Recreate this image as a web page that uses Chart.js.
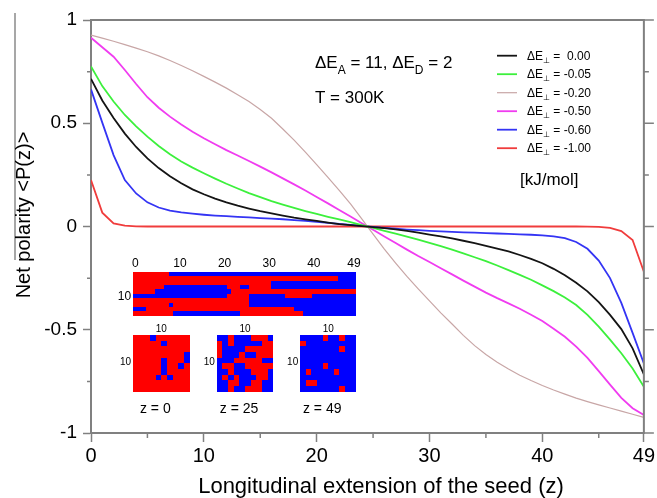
<!DOCTYPE html>
<html>
<head>
<meta charset="utf-8">
<script src="https://cdn.jsdelivr.net/npm/chart.js@4.4.0/dist/chart.umd.min.js"></script>
<style>
  html, body { margin: 0; padding: 0; background: #fff; }
  canvas { display: block; }
</style>
</head>
<body>
<canvas id="chart" width="657" height="498"></canvas>
<script>
// longitudinal position of the seed
const zValues = [0, 1, 2, 3, 4, 5, 6, 7, 8, 9, 10, 11, 12, 13, 14, 15, 16, 17, 18, 19, 20, 21, 22, 23, 24,
    25, 26, 27, 28, 29, 30, 31, 32, 33, 34, 35, 36, 37, 38, 39, 40, 41, 42, 43, 44, 45, 46, 47, 48, 49];

// dE_perp values (legend) and their curves
const dePerp = ['0.00', '-0.05', '-0.20', '-0.50', '-0.60', '-1.00'];
const p000 = [0.715, 0.61, 0.525, 0.45, 0.385, 0.33, 0.283, 0.243, 0.209, 0.18, 0.156, 0.135, 0.117, 0.101, 0.087, 0.074, 0.063, 0.053, 0.043, 0.035, 0.027, 0.019, 0.012, 0.007, 0.002,
    -0.003, -0.008, -0.014, -0.021, -0.03, -0.039, -0.048, -0.058, -0.069, -0.081, -0.094, -0.107, -0.121, -0.138, -0.157, -0.178, -0.205, -0.236, -0.272, -0.314, -0.366, -0.428, -0.497, -0.59, -0.716];
const p005 = [0.775, 0.68, 0.605, 0.54, 0.485, 0.435, 0.39, 0.35, 0.315, 0.285, 0.258, 0.232, 0.207, 0.184, 0.162, 0.142, 0.123, 0.106, 0.09, 0.075, 0.061, 0.047, 0.034, 0.021, 0.007,
    -0.007, -0.021, -0.035, -0.049, -0.064, -0.079, -0.095, -0.112, -0.13, -0.149, -0.168, -0.189, -0.211, -0.234, -0.258, -0.285, -0.313, -0.344, -0.38, -0.428, -0.485, -0.548, -0.614, -0.688, -0.776];
const p020 = [0.927, 0.912, 0.897, 0.881, 0.864, 0.846, 0.826, 0.804, 0.78, 0.754, 0.727, 0.699, 0.67, 0.638, 0.605, 0.567, 0.524, 0.472, 0.418, 0.36, 0.3, 0.238, 0.175, 0.11, 0.037,
    -0.037, -0.11, -0.177, -0.242, -0.302, -0.36, -0.418, -0.472, -0.527, -0.577, -0.62, -0.657, -0.69, -0.72, -0.746, -0.77, -0.792, -0.812, -0.831, -0.848, -0.864, -0.879, -0.894, -0.909, -0.924];
const p050 = [0.914, 0.868, 0.822, 0.758, 0.69, 0.626, 0.575, 0.532, 0.494, 0.459, 0.427, 0.398, 0.37, 0.344, 0.317, 0.29, 0.262, 0.233, 0.204, 0.174, 0.143, 0.112, 0.08, 0.048, 0.016,
    -0.016, -0.048, -0.08, -0.112, -0.143, -0.172, -0.202, -0.232, -0.262, -0.291, -0.32, -0.347, -0.372, -0.398, -0.427, -0.458, -0.495, -0.534, -0.582, -0.636, -0.7, -0.766, -0.83, -0.88, -0.913];
const p060 = [0.664, 0.503, 0.346, 0.225, 0.16, 0.117, 0.092, 0.077, 0.068, 0.062, 0.057, 0.053, 0.05, 0.047, 0.044, 0.041, 0.038, 0.035, 0.031, 0.027, 0.023, 0.018, 0.013, 0.008, 0.003,
    -0.002, -0.007, -0.011, -0.015, -0.018, -0.021, -0.024, -0.026, -0.028, -0.03, -0.032, -0.034, -0.036, -0.038, -0.04, -0.043, -0.048, -0.056, -0.075, -0.108, -0.165, -0.25, -0.37, -0.515, -0.663];
const p100 = [0.225, 0.067, 0.015, 0.004, 0.001, 0, 0, 0, 0, 0, 0, 0, 0, 0, 0, 0, 0, 0, 0, 0, 0, 0, 0, 0, 0,
    0, 0, 0, 0, 0, 0, 0, 0, 0, 0, 0, 0, 0, 0, 0, 0, 0, 0, 0, -0.001, -0.002, -0.007, -0.022, -0.065, -0.219];

// tick labels
const xTickValues = [0, 10, 20, 30, 40, 49];
const xMinorTicks = [5, 15, 25, 35, 45];
const yTickValues = [-1, -0.5, 0, 0.5, 1];
const yTickLabels = ['-1', '-0.5', '0', '0.5', '1'];
const yMinorTicks = [-0.75, -0.25, 0.25, 0.75];

// inset snapshots: R = red, B = blue
const stripTicks = ['0', '10', '20', '30', '40', '49'];
const stripTickCols = [0, 10, 20, 30, 40, 49];
const stripRuns = [
    [['R', 8], ['B', 42]],
    [['R', 46], ['B', 4]],
    [['R', 31], ['B', 19]],
    [['R', 7], ['B', 14], ['R', 3], ['B', 2], ['R', 5], ['B', 19]],
    [['R', 5], ['B', 17], ['R', 28]],
    [['B', 21], ['R', 5], ['B', 8], ['R', 6], ['B', 10]],
    [['R', 26], ['B', 24]],
    [['R', 8], ['B', 1], ['R', 17], ['B', 24]],
    [['B', 3], ['R', 33], ['B', 14]],
    [['R', 9], ['B', 15], ['R', 14], ['B', 12]]
];
const snapZ0 = ['RRRBRRRRRR', 'RRRRRBRRRR', 'RRRRRRRRRR', 'RRRRRRRRRB', 'RRRRRBRRRB',
    'RRRRRBRRBR', 'RRRRRBRRRR', 'RRRRBRBRRR', 'RRRRRRRRRR', 'RRRRRRRRRR'];
const snapZ25 = ['BBRBBBRRRB', 'RBRBBBBBRR', 'RBBBBRRRRR', 'RBBBRBBRRR', 'BBBRRRRRBB',
    'BRRBBRRRRR', 'BBRBBBRRRB', 'BRBRBBBRRB', 'BBRRBBRRBB', 'BBRBBRRRBB'];
const snapZ49 = ['BBBBRBBRBB', 'RBBBBBBBBB', 'BBBBBBBRBB', 'BBBBBBBBBB', 'BBBBBBBBBB',
    'BBBBRBBBBB', 'BRBBBBRBBB', 'BBBBBBBBBB', 'BRRBBBBBBB', 'BBBBBBBRBB'];
const snapLabels = ['z = 0', 'z = 25', 'z = 49'];

const FONT = "'Liberation Sans', Arial, Helvetica, sans-serif";
const AXIS_GREY = '#808080';
const cellColor = { R: '#ff0000', B: '#0000ff' };

const series = [p000, p005, p020, p050, p060, p100];
const colors = ['#141414', '#3cf03c', '#c8a6a6', '#f03cf0', '#3434f4', '#f03c3c'];
const widths = [1.8, 1.8, 1.2, 1.8, 1.8, 1.8];

const datasets = series.map((vals, i) => ({
    label: dePerp[i],
    data: zValues.map((z, k) => ({ x: z, y: vals[k] })),
    borderColor: colors[i],
    borderWidth: widths[i],
    pointRadius: 0,
    tension: 0,
    fill: false
}));

function richText(ctx, x, y, parts) {
    parts.forEach(p => {
        ctx.font = p.size + 'px ' + FONT;
        ctx.fillText(p.t, x, y + (p.dy || 0));
        x += ctx.measureText(p.t).width;
    });
}

function drawGrid(ctx, x0, y0, x1, y1, rows) {
    const nr = rows.length, nc = rows[0].length;
    for (let r = 0; r < nr; r++) {
        for (let c = 0; c < nc; c++) {
            const a = Math.round(x0 + (x1 - x0) * c / nc), b = Math.round(x0 + (x1 - x0) * (c + 1) / nc);
            const t = Math.round(y0 + (y1 - y0) * r / nr), u = Math.round(y0 + (y1 - y0) * (r + 1) / nr);
            ctx.fillStyle = cellColor[rows[r][c]];
            ctx.fillRect(a, t, b - a, u - t);
        }
    }
}

const decor = {
    id: 'decor',
    afterDraw(chart) {
        const ctx = chart.ctx, area = chart.chartArea;
        const xs = chart.scales.x, ys = chart.scales.y;
        ctx.save();

        // frame: top and right edges
        ctx.strokeStyle = AXIS_GREY;
        ctx.lineWidth = 2;
        ctx.beginPath();
        ctx.moveTo(area.left - 1, area.top);
        ctx.lineTo(area.right, area.top);
        ctx.lineTo(area.right, area.bottom + 1);
        ctx.stroke();

        // minor ticks and right-side ticks
        ctx.lineWidth = 1.5;
        ctx.beginPath();
        xMinorTicks.forEach(v => {
            const px = xs.getPixelForValue(v);
            ctx.moveTo(px, area.bottom); ctx.lineTo(px, area.bottom + 5);
        });
        yMinorTicks.forEach(v => {
            const py = ys.getPixelForValue(v);
            ctx.moveTo(area.left, py); ctx.lineTo(area.left - 4, py);
            ctx.moveTo(area.right, py); ctx.lineTo(area.right + 5, py);
        });
        yTickValues.forEach(v => {
            const py = ys.getPixelForValue(v);
            ctx.moveTo(area.right, py); ctx.lineTo(area.right + 10, py);
        });
        ctx.stroke();

        // stray frame line at far left
        ctx.strokeStyle = '#8a8a8a';
        ctx.beginPath();
        ctx.moveTo(15, 13); ctx.lineTo(15, 260);
        ctx.stroke();

        // axis titles
        ctx.fillStyle = '#000';
        ctx.font = '22px ' + FONT;
        ctx.textAlign = 'center';
        ctx.textBaseline = 'alphabetic';
        ctx.fillText('Longitudinal extension of the seed (z)', 381, 493);
        ctx.save();
        ctx.font = '20px ' + FONT;
        ctx.translate(24, 215);
        ctx.rotate(-Math.PI / 2);
        ctx.textBaseline = 'middle';
        ctx.fillText('Net polarity <P(z)>', 0, 0);
        ctx.restore();

        // parameter annotation
        ctx.textAlign = 'left';
        ctx.textBaseline = 'alphabetic';
        richText(ctx, 315, 68, [
            { t: '\u0394E', size: 17 }, { t: 'A', size: 12, dy: 6 },
            { t: ' = 11, \u0394E', size: 17 }, { t: 'D', size: 12, dy: 6 },
            { t: ' = 2', size: 17 }
        ]);
        richText(ctx, 315, 103, [{ t: 'T = 300K', size: 17 }]);

        // legend
        chart.data.datasets.forEach((ds, i) => {
            const yy = 55.7 + i * 18.5;
            ctx.strokeStyle = ds.borderColor;
            ctx.lineWidth = ds.borderWidth;
            ctx.beginPath();
            ctx.moveTo(497, yy); ctx.lineTo(517, yy);
            ctx.stroke();
            ctx.fillStyle = '#000';
            const val = ds.label.charAt(0) === '-' ? ' = ' + ds.label : ' =  ' + ds.label;
            richText(ctx, 527, yy + 4, [
                { t: '\u0394E', size: 12 }, { t: '\u22A5', size: 8, dy: 3 }, { t: val, size: 12 }
            ]);
        });
        ctx.fillStyle = '#000';
        richText(ctx, 520, 185, [{ t: '[kJ/mol]', size: 17 }]);

        // inset: polarity map along the seed
        const sx0 = xs.getPixelForValue(3.73), sx1 = xs.getPixelForValue(23.51);
        const sy0 = ys.getPixelForValue(-0.219), sy1 = ys.getPixelForValue(-0.433);
        const stripRows = stripRuns.map(runs => runs.map(([c, n]) => c.repeat(n)).join(''));
        drawGrid(ctx, sx0, sy0, sx1, sy1, stripRows);
        ctx.fillStyle = '#000';
        ctx.font = '12px ' + FONT;
        ctx.textAlign = 'center';
        ctx.textBaseline = 'middle';
        const cw = (sx1 - sx0) / 50;
        stripTicks.forEach((t, i) => ctx.fillText(t, sx0 + cw * (stripTickCols[i] + 0.5), sy0 - 8));
        ctx.textAlign = 'right';
        ctx.fillText('10', sx0 - 2, sy0 + (sy1 - sy0) * 0.56);

        // inset: cross-section snapshots
        const snaps = [snapZ0, snapZ25, snapZ49];
        const snapZ = [[3.73, 8.74], [11.15, 16.16], [18.54, 23.51]];
        const qy0 = ys.getPixelForValue(-0.525), qy1 = ys.getPixelForValue(-0.8);
        snaps.forEach((rows, i) => {
            const qx0 = xs.getPixelForValue(snapZ[i][0]), qx1 = xs.getPixelForValue(snapZ[i][1]);
            drawGrid(ctx, qx0, qy0, qx1, qy1, rows);
            ctx.fillStyle = '#000';
            ctx.font = '10px ' + FONT;
            ctx.textAlign = 'center';
            ctx.fillText('10', (qx0 + qx1) / 2, qy0 - 6);
            ctx.textAlign = 'right';
            ctx.fillText('10', qx0 - 2, qy0 + (qy1 - qy0) * 0.49);
            ctx.textAlign = 'center';
            ctx.font = '14px ' + FONT;
            ctx.fillText(snapLabels[i], (qx0 + qx1) / 2 - 6, qy1 + 17);
        });

        ctx.restore();
    }
};

new Chart(document.getElementById('chart').getContext('2d'), {
    type: 'line',
    data: { datasets: datasets },
    options: {
        responsive: false,
        animation: false,
        devicePixelRatio: 1,
        layout: { padding: { top: 20, right: 11, left: 0, bottom: 0 } },
        plugins: { legend: { display: false }, tooltip: { enabled: false } },
        scales: {
            x: {
                type: 'linear',
                min: 0,
                max: 49,
                afterBuildTicks: axis => { axis.ticks = xTickValues.map(v => ({ value: v })); },
                afterFit: axis => { axis.height = 65; },
                ticks: { color: '#000', font: { family: FONT, size: 20 }, padding: 2, maxRotation: 0, autoSkip: false },
                grid: { drawOnChartArea: false, tickLength: 9, tickColor: AXIS_GREY, tickWidth: 1.5 },
                border: { display: true, color: AXIS_GREY, width: 2 }
            },
            y: {
                min: -1,
                max: 1,
                afterBuildTicks: axis => { axis.ticks = yTickValues.map(v => ({ value: v })); },
                afterFit: axis => { axis.width = 91; },
                ticks: {
                    color: '#000',
                    font: { family: FONT, size: 19 },
                    padding: 6,
                    callback: (v, i) => yTickLabels[i]
                },
                grid: { drawOnChartArea: false, tickLength: 8, tickColor: AXIS_GREY, tickWidth: 1.5 },
                border: { display: true, color: AXIS_GREY, width: 2 }
            }
        }
    },
    plugins: [decor]
});
</script>
</body>
</html>
